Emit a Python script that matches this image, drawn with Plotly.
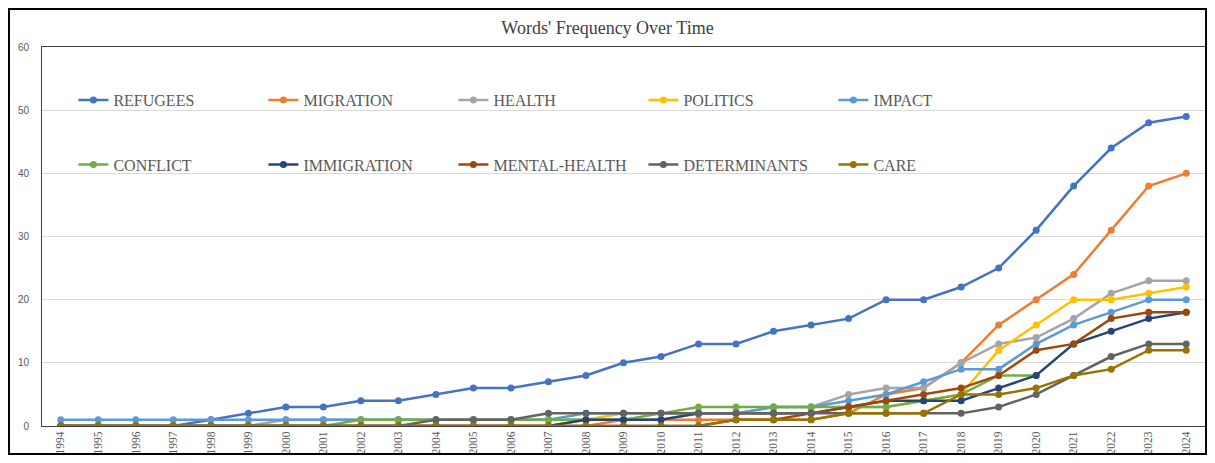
import plotly.graph_objects as go

# Words' frequency per year
YEARS = ["1994", "1995", "1996", "1997", "1998", "1999", "2000", "2001", "2002", "2003",
         "2004", "2005", "2006", "2007", "2008", "2009", "2010", "2011", "2012", "2013",
         "2014", "2015", "2016", "2017", "2018", "2019", "2020", "2021", "2022", "2023", "2024"]

REFUGEES = [0, 0, 0, 0, 1, 2, 3, 3, 4, 4, 5, 6, 6, 7, 8, 10, 11, 13, 13, 15,
            16, 17, 20, 20, 22, 25, 31, 38, 44, 48, 49]
MIGRATION = [0, 0, 0, 0, 0, 0, 0, 0, 0, 0, 0, 0, 0, 0, 0, 1, 1, 1, 1, 1,
             1, 2, 5, 6, 10, 16, 20, 24, 31, 38, 40]
HEALTH = [0, 0, 0, 0, 0, 0, 1, 1, 1, 1, 1, 1, 1, 1, 1, 1, 1, 2, 2, 3,
          3, 5, 6, 6, 10, 13, 14, 17, 21, 23, 23]
POLITICS = [0, 0, 0, 0, 0, 0, 0, 0, 0, 0, 0, 0, 0, 0, 1, 2, 2, 2, 2, 2,
            2, 3, 3, 4, 5, 12, 16, 20, 20, 21, 22]
IMPACT = [1, 1, 1, 1, 1, 1, 1, 1, 1, 1, 1, 1, 1, 1, 2, 2, 2, 2, 2, 3,
          3, 4, 5, 7, 9, 9, 13, 16, 18, 20, 20]
CONFLICT = [0, 0, 0, 0, 0, 0, 0, 0, 1, 1, 1, 1, 1, 1, 1, 1, 2, 3, 3, 3,
            3, 3, 3, 4, 5, 8, 8, None, None, None, None]
IMMIGRATION = [0, 0, 0, 0, 0, 0, 0, 0, 0, 0, 0, 0, 0, 0, 1, 1, 1, 2, 2, 2,
               2, 3, 4, 4, 4, 6, 8, 13, 15, 17, 18]
MENTAL_HEALTH = [0, 0, 0, 0, 0, 0, 0, 0, 0, 0, 0, 0, 0, 0, 0, 0, 0, 0, 1, 1,
                 2, 3, 4, 5, 6, 8, 12, 13, 17, 18, 18]
DETERMINANTS = [0, 0, 0, 0, 0, 0, 0, 0, 0, 0, 1, 1, 1, 2, 2, 2, 2, 2, 2, 2,
                2, 2, 2, 2, 2, 3, 5, 8, 11, 13, 13]
CARE = [0, 0, 0, 0, 0, 0, 0, 0, 0, 0, 0, 0, 0, 0, 0, 0, 0, 0, 1, 1,
        1, 2, 2, 2, 5, 5, 6, 8, 9, 12, 12]

SERIES = [
    ("REFUGEES", REFUGEES, "#4472C4", "legend"),
    ("MIGRATION", MIGRATION, "#ED7D31", "legend"),
    ("HEALTH", HEALTH, "#A5A5A5", "legend"),
    ("POLITICS", POLITICS, "#FFC000", "legend"),
    ("IMPACT", IMPACT, "#5B9BD5", "legend"),
    ("CONFLICT", CONFLICT, "#70AD47", "legend2"),
    ("IMMIGRATION", IMMIGRATION, "#264478", "legend2"),
    ("MENTAL-HEALTH", MENTAL_HEALTH, "#9E480E", "legend2"),
    ("DETERMINANTS", DETERMINANTS, "#636363", "legend2"),
    ("CARE", CARE, "#997300", "legend2"),
]

SERIF = "Liberation Serif, Times New Roman, serif"
SANS = "Liberation Sans, Arial, sans-serif"

fig = go.Figure()
for name, vals, color, leg in SERIES:
    fig.add_trace(
        go.Scatter(
            x=YEARS,
            y=vals,
            name=name,
            mode="lines+markers",
            line=dict(color=color, width=2.5),
            marker=dict(color=color, size=7),
            legend=leg,
        )
    )

legend_style = dict(
    orientation="h",
    xanchor="left",
    yanchor="middle",
    x=0.027,
    entrywidth=145,
    entrywidthmode="pixels",
    font=dict(family=SERIF, size=16, color="#595959"),
    bgcolor="rgba(0,0,0,0)",
    itemwidth=30,
)

# page body adds an 8px offset, so the figure is the inner 1199x447 box
fig.update_layout(
    width=1199,
    height=447,
    margin=dict(l=34, r=2, t=39, b=29),
    paper_bgcolor="white",
    plot_bgcolor="white",
    title=dict(
        text="Words' Frequency Over Time",
        x=0.5,
        xanchor="center",
        y=0.957,
        yanchor="middle",
        font=dict(family=SERIF, size=18, color="#404040"),
    ),
    legend=dict(legend_style, y=0.86),
    legend2=dict(legend_style, y=0.69),
    xaxis=dict(
        type="category",
        range=[-0.5, 30.5],
        tickangle=-90,
        tickfont=dict(family=SERIF, size=11.5, color="#595959"),
        showgrid=False,
        showline=True,
        linecolor="#404040",
        linewidth=1,
        mirror=True,
        ticks="",
        automargin=False,
    ),
    yaxis=dict(
        range=[0, 60],
        dtick=10,
        tickfont=dict(family=SANS, size=10, color="#595959"),
        showgrid=True,
        gridcolor="#D9D9D9",
        gridwidth=1,
        zeroline=False,
        showline=True,
        linecolor="#404040",
        linewidth=1,
        mirror=True,
        ticks="",
        ticklabelstandoff=10,
        automargin=False,
    ),
    hovermode="x unified",
)

# outer frame around the whole chart
fig.add_shape(
    type="rect",
    xref="paper", yref="paper",
    x0=-0.0284, x1=1.0009, y0=-0.0739, y1=1.1003,
    line=dict(color="black", width=2),
    fillcolor="rgba(0,0,0,0)",
    layer="above",
)

fig.write_html("out.html")
